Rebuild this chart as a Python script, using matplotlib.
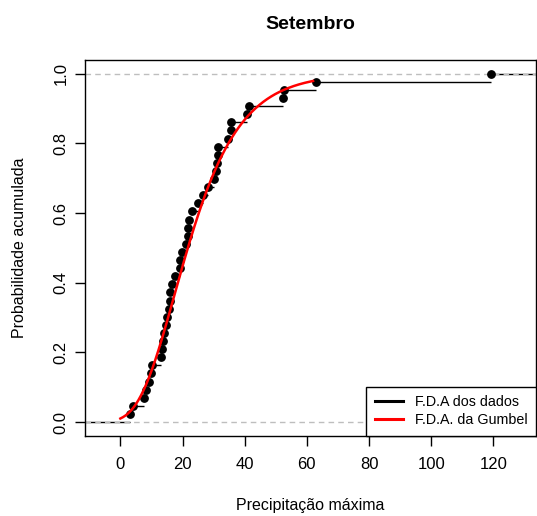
import numpy as np
import matplotlib
matplotlib.use("Agg")
import matplotlib.pyplot as plt

plt.rcParams['font.family'] = ['Liberation Sans', 'DejaVu Sans']

# maximum precipitation values (sorted)
precip = [3.2, 4.0, 7.5, 8.2, 9.1, 10.0, 10.3, 13.2, 13.3, 13.8, 14.2,
          14.6, 15.1, 15.6, 15.9, 16.0, 16.5, 17.6, 19.1, 19.2, 19.9, 21.1,
          21.8, 21.9, 22.2, 22.9, 24.9, 26.6, 28.2, 30.1, 30.9, 31.1, 31.3,
          31.4, 34.6, 35.6, 35.7, 40.9, 41.5, 52.3, 52.5, 62.8, 119.3]

# Gumbel fit parameters
mu = 17.5
beta = 11.5
gumbel_range = [0, 62]

xticks = [0, 20, 40, 60, 80, 100, 120]
yticks = [0.0, 0.2, 0.4, 0.6, 0.8, 1.0]


def main():
    fig = plt.figure(figsize=(5.37, 5.16), dpi=100)
    ax = fig.add_axes([0.159, 0.155, 0.839, 0.729])

    x = np.array(precip)
    n = len(x)
    F = np.arange(1, n + 1) / n
    xlim = (-11.25, 133.7)

    # ecdf steps
    ax.hlines(0, xlim[0], x[0], color='black', lw=1)
    ax.hlines(F[:-1], x[:-1], x[1:], color='black', lw=1)
    ax.hlines(1, x[-1], xlim[1], color='black', lw=1)
    ax.plot(x, F, 'o', color='black', ms=5.3, zorder=3)

    # reference lines
    ax.axhline(0, color='#bebebe', ls=(0, (4, 3)), lw=1, zorder=2)
    ax.axhline(1, color='#bebebe', ls=(0, (4, 3)), lw=1, zorder=2)

    # Gumbel cdf
    xs = np.linspace(gumbel_range[0], gumbel_range[1], 300)
    ax.plot(xs, np.exp(-np.exp(-(xs - mu) / beta)), color='red', lw=1.8,
            zorder=4)

    ax.set_xlim(*xlim)
    ax.set_ylim(-0.04, 1.04)
    ax.set_xticks(xticks)
    ax.set_yticks(yticks)
    ax.set_xticklabels([str(t) for t in xticks], fontsize=12)
    ax.set_yticklabels(['%.1f' % t for t in yticks], fontsize=12,
                       rotation=90, va='center')
    ax.tick_params(length=7, width=1, pad=8)
    ax.tick_params(axis='y', pad=5)
    for s in ax.spines.values():
        s.set_linewidth(1)

    ax.set_title('Setembro', fontsize=14, fontweight='bold', pad=22)
    ax.set_xlabel('Precipitação máxima', fontsize=11.5, labelpad=19)
    ax.set_ylabel('Probabilidade acumulada', fontsize=11.5, labelpad=19)

    ax.plot([], [], color='black', lw=2.2, label='F.D.A dos dados')
    ax.plot([], [], color='red', lw=2.2, label='F.D.A. da Gumbel')
    leg = ax.legend(loc='lower right', borderaxespad=0, fancybox=False,
                    edgecolor='black', framealpha=1, fontsize=10.3,
                    handlelength=2.0, borderpad=0.6, labelspacing=0.3)
    leg.get_frame().set_linewidth(1)

    fig.savefig('out.png', dpi=100)


if __name__ == '__main__':
    main()
